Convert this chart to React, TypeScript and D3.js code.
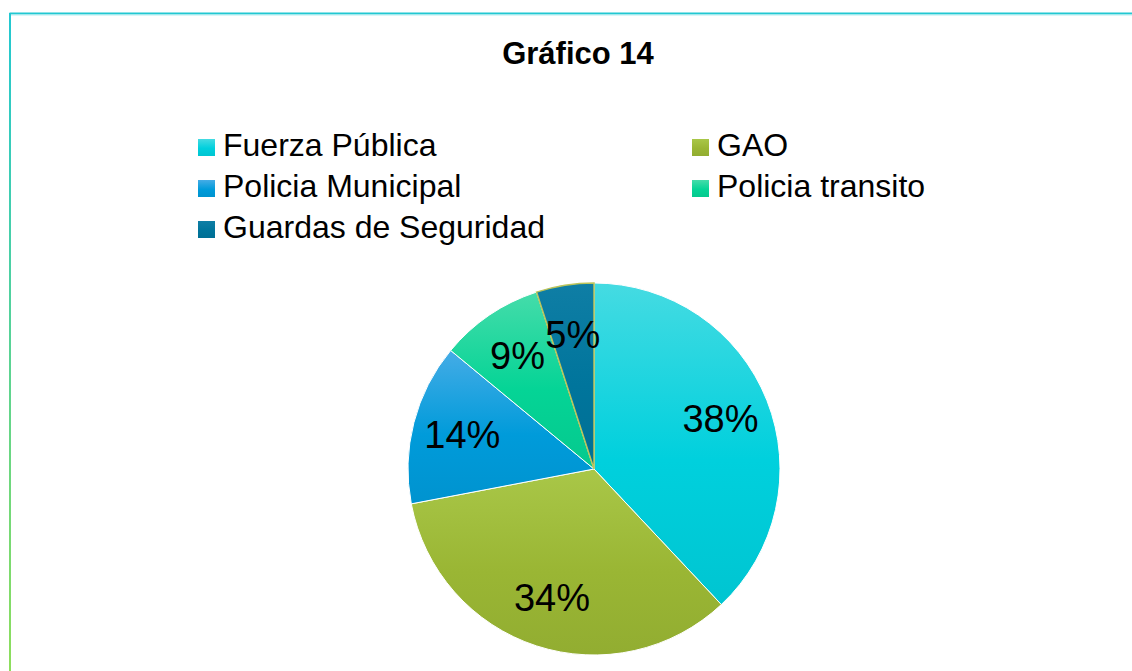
import React, { useEffect, useRef } from 'react';
import * as d3 from 'd3';

// chart data
const categories = ['Fuerza Pública', 'GAO', 'Policia Municipal', 'Policia transito', 'Guardas de Seguridad'];
const values = [38, 34, 14, 9, 5];
const colorsTop = ['#45dbe2', '#a9c748', '#45ace6', '#45dcaa', '#0f7ea5'];
const colorsBottom = ['#00d0dd', '#9ab634', '#009bda', '#05d496', '#00759c'];

const W = 1132, H = 671;

export default function App() {
  const ref = useRef<SVGSVGElement>(null);

  useEffect(() => {
    const svg = d3.select(ref.current);
    svg.selectAll('*').remove();

    const defs = svg.append('defs');
    // frame gradient, teal at top to green at bottom
    const fg = defs.append('linearGradient').attr('id', 'frameGrad')
      .attr('x1', 0).attr('y1', 0).attr('x2', 0).attr('y2', 1);
    fg.append('stop').attr('offset', '0%').attr('stop-color', '#22c8d2');
    fg.append('stop').attr('offset', '100%').attr('stop-color', '#8ede5c');

    // one vertical gradient per series, stretched over each shape
    categories.forEach((c, i) => {
      const g = defs.append('linearGradient').attr('id', 'grad' + i)
        .attr('x1', 0).attr('y1', 0).attr('x2', 0).attr('y2', 1);
      g.append('stop').attr('offset', '0%').attr('stop-color', colorsTop[i]);
      g.append('stop').attr('offset', '55%').attr('stop-color', colorsBottom[i]);
      g.append('stop').attr('offset', '100%').attr('stop-color', d3.color(colorsBottom[i])!.darker(0.15).formatHex());
    });

    // chart frame (only top and left edges visible)
    svg.append('line').attr('x1', 9.5).attr('x2', W).attr('y1', 13.5).attr('y2', 13.5)
      .attr('stroke', '#22c8d2').attr('stroke-width', 2);
    svg.append('line').attr('x1', 9.5).attr('x2', W).attr('y1', 15).attr('y2', 15)
      .attr('stroke', '#b4eef2').attr('stroke-width', 1);
    svg.append('rect').attr('x', 9).attr('y', 13).attr('width', 2).attr('height', H - 13)
      .attr('fill', 'url(#frameGrad)');

    // title
    svg.append('text')
      .attr('x', 578).attr('y', 64)
      .attr('text-anchor', 'middle')
      .style('font-family', 'Arial, "Liberation Sans", sans-serif')
      .style('font-weight', 'bold')
      .style('font-size', '31px')
      .text('Gráfico 14');

    // legend
    const legend = svg.append('g');
    categories.forEach((c, i) => {
      const col = i % 2, row = Math.floor(i / 2);
      const lx = col === 0 ? 198 : 692;
      const ly = 139 + row * 41;
      legend.append('rect').attr('x', lx).attr('y', ly).attr('width', 17).attr('height', 17)
        .attr('fill', `url(#grad${i})`);
      legend.append('text')
        .attr('x', lx + 25).attr('y', ly + 17)
        .style('font-family', 'Arial, "Liberation Sans", sans-serif')
        .style('font-size', '32px')
        .text(c);
    });

    // pie
    const R = 186;
    const pie = d3.pie<number>().sort(null).value(d => d);
    const arc = d3.arc<d3.PieArcDatum<number>>().innerRadius(0).outerRadius(R);
    const labelArc = d3.arc<d3.PieArcDatum<number>>().innerRadius(136).outerRadius(136);
    const arcs = pie(values);

    const g = svg.append('g').attr('transform', 'translate(594,469)');
    g.selectAll('path.slice')
      .data(arcs)
      .enter()
      .append('path')
      .attr('class', 'slice')
      .attr('d', arc)
      .attr('fill', (d, i) => `url(#grad${i})`)
      .attr('stroke', (d, i) => (i === 4 ? '#bcc45a' : '#ffffff'))
      .attr('stroke-width', (d, i) => (i === 4 ? 1.5 : 1));

    g.selectAll('text.lbl')
      .data(arcs)
      .enter()
      .append('text')
      .attr('class', 'lbl')
      .attr('transform', d => 'translate(' + labelArc.centroid(d) + ')')
      .attr('text-anchor', 'middle')
      .attr('dy', '0.34em')
      .style('font-family', 'Arial, "Liberation Sans", sans-serif')
      .style('font-size', '38px')
      .text(d => d.data + '%');
  }, []);

  return (
    <div style={{ position: 'absolute', left: 0, top: 0 }}>
      <svg ref={ref} width={W} height={H} style={{ display: 'block', background: '#fff' }} />
    </div>
  );
}
